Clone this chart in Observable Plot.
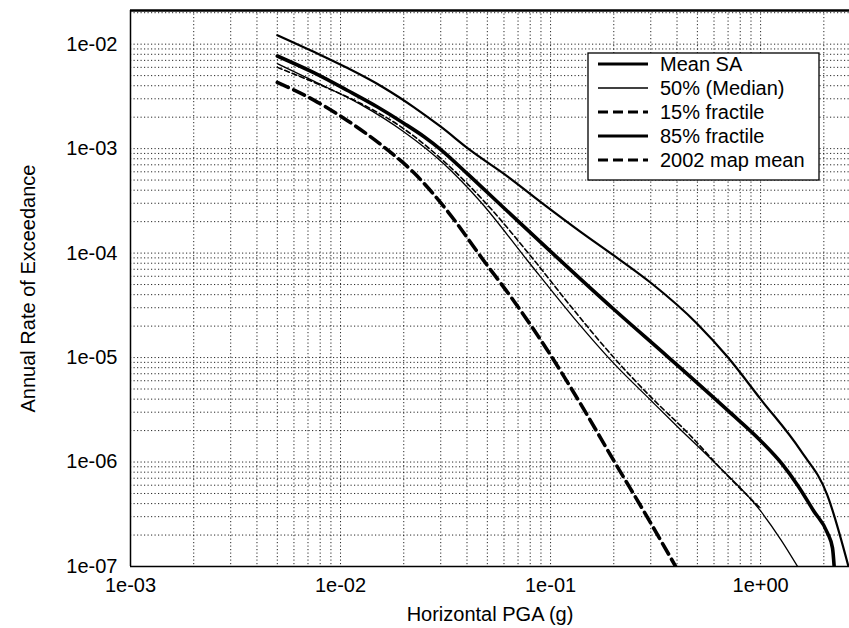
<!DOCTYPE html>
<html><head><meta charset="utf-8">
<script src="https://cdn.jsdelivr.net/npm/d3@7"></script>
<script src="https://cdn.jsdelivr.net/npm/@observablehq/plot@0.6"></script>
<style>
body{margin:0;background:#fff;}
#wrap{position:relative;width:849px;height:628px;font-family:"Liberation Sans",Arial,sans-serif;}
#wrap svg{display:block;}
#legend{position:absolute;left:0;top:0;pointer-events:none;}
</style></head><body><div id="wrap"></div>
<script>
// ---- data ----
const seriesNames = ["Mean SA", "50% (Median)", "15% fractile", "85% fractile", "2002 map mean"];

const meanX = [0.005, 0.0075, 0.0108, 0.015, 0.02, 0.025, 0.03, 0.04, 0.06, 0.102, 0.2, 0.365, 0.7, 1.0, 1.27, 1.5, 1.79, 2.08, 2.2, 2.24];
const meanY = [7.7e-3, 5.3e-3, 3.6e-3, 2.5e-3, 1.75e-3, 1.3e-3, 9.8e-4, 5.8e-4, 2.7e-4, 1.0e-4, 2.9e-5, 1.0e-5, 3.1e-6, 1.6e-6, 9.5e-7, 6.0e-7, 3.4e-7, 2.1e-7, 1.5e-7, 1e-7];

const medX = [0.005, 0.0075, 0.01245, 0.02, 0.0309, 0.0464, 0.0776, 0.129, 0.2, 0.3, 0.4, 0.6, 1.0, 1.25, 1.5];
const medY = [6.5e-3, 4.4e-3, 2.65e-3, 1.45e-3, 7.2e-4, 3.1e-4, 8.5e-5, 2.4e-5, 8.8e-6, 3.9e-6, 2.2e-6, 1.0e-6, 3.4e-7, 1.8e-7, 1e-7];

const p15X = [0.005, 0.0075, 0.0108, 0.0155, 0.0223, 0.0324, 0.048, 0.0667, 0.0968, 0.139, 0.2, 0.3, 0.394];
const p15Y = [4.3e-3, 2.9e-3, 1.85e-3, 1.1e-3, 5.9e-4, 2.5e-4, 8.5e-5, 3.5e-5, 1.17e-5, 3.6e-6, 1.03e-6, 2.6e-7, 1e-7];

const p85X = [0.005, 0.0075, 0.0108, 0.016, 0.0223, 0.03, 0.0416, 0.0625, 0.0895, 0.139, 0.2, 0.3, 0.5, 0.7, 1.0, 1.55, 2.08, 2.62];
const p85Y = [1.22e-2, 8.4e-3, 5.9e-3, 3.85e-3, 2.5e-3, 1.62e-3, 9.6e-4, 5.4e-4, 3.1e-4, 1.6e-4, 9.5e-5, 5.2e-5, 2.1e-5, 1.0e-5, 4.0e-6, 1.29e-6, 4.8e-7, 1e-7];

const mapX = [0.005, 0.0075, 0.0125, 0.02, 0.0324, 0.05, 0.08, 0.13, 0.2, 0.3, 0.45, 0.7, 1.0];
const mapY = [6.0e-3, 4.3e-3, 2.7e-3, 1.55e-3, 7.0e-4, 2.9e-4, 9.5e-5, 2.8e-5, 1.0e-5, 4.2e-6, 1.9e-6, 7.3e-7, 3.6e-7];

const xTicks = [1e-3, 1e-2, 1e-1, 1];
const xTickLabels = ["1e-03", "1e-02", "1e-01", "1e+00"];
const yTicks = [1e-7, 1e-6, 1e-5, 1e-4, 1e-3, 1e-2];
const yTickLabels = ["1e-07", "1e-06", "1e-05", "1e-04", "1e-03", "1e-02"];

const xDomain = [1e-3, 2.65];
const yDomain = [1e-7, 0.021];

// ---- build tables ----
const seriesXs = [meanX, medX, p15X, p85X, mapX];
const seriesYs = [meanY, medY, p15Y, p85Y, mapY];
const styles = [
  {strokeWidth: 3.6, dash: null, legendWidth: 3.2},
  {strokeWidth: 1.3, dash: null, legendWidth: 1.3},
  {strokeWidth: 3.6, dash: "12,6", legendWidth: 3.2, legendDash: "10,5"},
  {strokeWidth: 2.2, dash: null, legendWidth: 3.0},
  {strokeWidth: 1.6, dash: "5,3", legendWidth: 3.2, legendDash: "10,5"}
];
const tables = seriesNames.map((name, k) => seriesXs[k].map((x, i) => ({series: name, x, y: seriesYs[k][i]})));

// grid values: 1..9 multiples per decade, within domain
const mult = [1,2,3,4,5,6,7,8,9];
const gridX = [], gridY = [];
for (const d of [1e-3,1e-2,1e-1,1]) for (const m of mult) { const v = d*m; if (v > xDomain[0] && v < xDomain[1]) gridX.push(v); }
for (const d of [1e-7,1e-6,1e-5,1e-4,1e-3,1e-2]) for (const m of mult) { const v = d*m; if (v > yDomain[0] && v < yDomain[1]) gridY.push(v); }

const lineMarks = tables.map((t, k) => Plot.line(t, {
  x: "x", y: "y", stroke: "black", strokeWidth: styles[k].strokeWidth,
  strokeDasharray: styles[k].dash || undefined, curve: "monotone-x", clip: true,
  strokeLinejoin: "round"
}));

const chart = Plot.plot({
  width: 849, height: 628,
  marginTop: 10, marginBottom: 62, marginLeft: 130, marginRight: 0,
  style: {fontFamily: "'Liberation Sans', Arial, sans-serif", fontSize: "20px", color: "black", background: "white", overflow: "visible"},
  x: {type: "log", domain: xDomain, ticks: xTicks, tickFormat: d => xTickLabels[xTicks.indexOf(d)],
      tickSize: 0, tickPadding: 11, label: "Horizontal PGA (g)", labelAnchor: "center", labelArrow: "none", labelOffset: 54},
  y: {type: "log", domain: yDomain, ticks: yTicks, tickFormat: d => yTickLabels[yTicks.indexOf(d)],
      tickSize: 0, tickPadding: 13, label: "Annual Rate of Exceedance", labelAnchor: "center", labelArrow: "none", labelOffset: 110},
  marks: [
    Plot.ruleX(gridX, {stroke: "black", strokeOpacity: 0.85, strokeDasharray: "1.2,2.3", strokeWidth: 1}),
    Plot.ruleY(gridY, {stroke: "black", strokeOpacity: 0.85, strokeDasharray: "1.2,2.3", strokeWidth: 1}),
    ...lineMarks,
    Plot.ruleX([xDomain[0]], {stroke: "black", strokeWidth: 1.5}),
    Plot.ruleY([yDomain[0]], {stroke: "black", strokeWidth: 1.5}),
    Plot.ruleY([yDomain[1]], {stroke: "black", strokeWidth: 2.5})
  ]
});
const wrap = document.getElementById("wrap");
wrap.appendChild(chart);

// ---- legend overlay ----
const ns = "http://www.w3.org/2000/svg";
const lg = document.createElementNS(ns, "svg");
lg.setAttribute("id", "legend");
lg.setAttribute("width", 849); lg.setAttribute("height", 628);
const box = document.createElementNS(ns, "rect");
Object.entries({x: 588, y: 53, width: 231, height: 127, fill: "white", stroke: "black", "stroke-width": 1.3}).forEach(([k,v]) => box.setAttribute(k, v));
lg.appendChild(box);
seriesNames.forEach((name, k) => {
  const cy = 64 + k * 24;
  const ln = document.createElementNS(ns, "line");
  Object.entries({x1: 598, x2: 648, y1: cy, y2: cy, stroke: "black", "stroke-width": styles[k].legendWidth}).forEach(([a,v]) => ln.setAttribute(a, v));
  if (styles[k].legendDash) ln.setAttribute("stroke-dasharray", styles[k].legendDash);
  lg.appendChild(ln);
  const tx = document.createElementNS(ns, "text");
  tx.setAttribute("x", 660); tx.setAttribute("y", cy); tx.setAttribute("dy", "0.36em");
  tx.setAttribute("font-size", "20px"); tx.setAttribute("font-family", "'Liberation Sans', Arial, sans-serif");
  tx.textContent = name;
  lg.appendChild(tx);
});
wrap.appendChild(lg);
</script>
</body></html>
